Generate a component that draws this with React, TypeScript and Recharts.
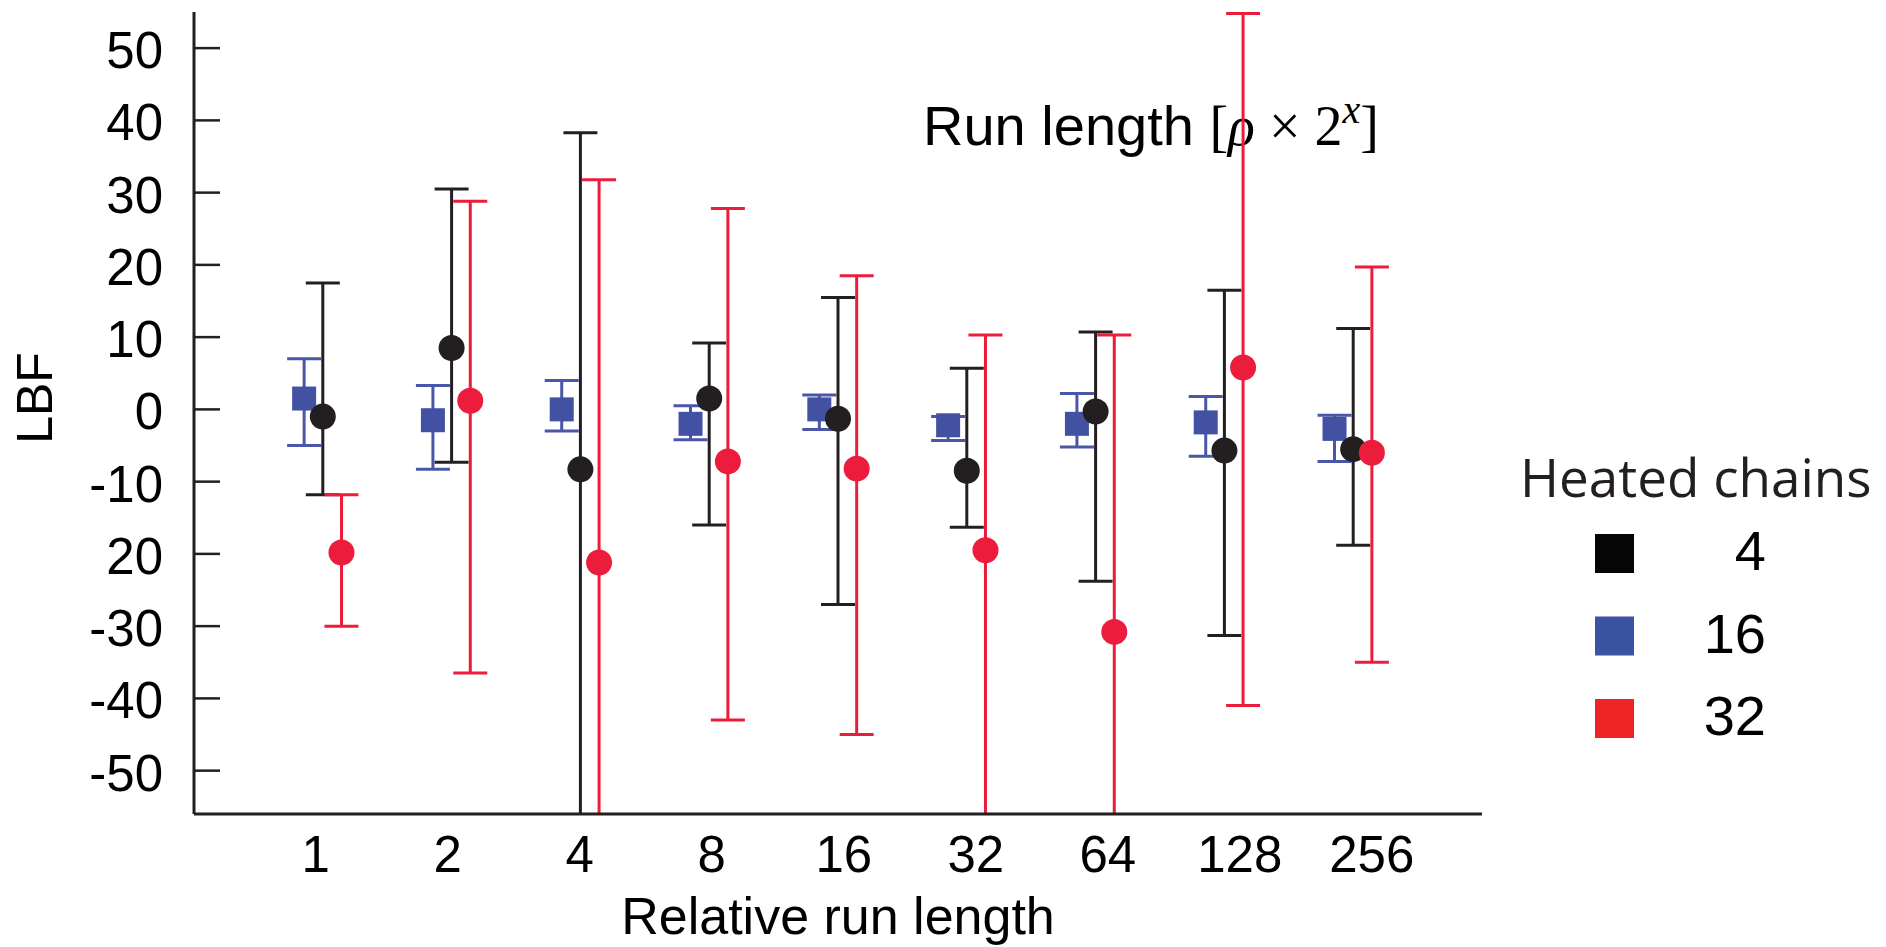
import { ScatterChart, Scatter, XAxis, YAxis, ErrorBar, Legend, Customized } from "recharts"

const runLengths = [1, 2, 4, 8, 16, 32, 64, 128, 256]
const chainCounts = ["4", "16", "32"]

// LBF estimate with lower / upper interval, per relative run length
const lbf4 = [-1, 8.5, -8.3, 1.5, -1.3, -8.5, -0.3, -5.7, -5.5]
const low4 = [-11.8, -7.3, -75, -16, -27, -16.3, -23.8, -31.3, -18.8]
const high4 = [17.5, 30.5, 38.3, 9.2, 15.5, 5.7, 10.7, 16.5, 11.2]

const lbf16 = [1.5, -1.5, 0, -2, 0, -2.2, -2, -1.8, -2.7]
const low16 = [-5, -8.3, -3, -4.2, -2.8, -4.3, -5.2, -6.5, -7.2]
const high16 = [7, 3.3, 4, 0.5, 2, -1, 2.2, 1.8, -0.8]

const lbf32 = [-19.8, 1.2, -21.2, -7.2, -8.2, -19.5, -30.8, 5.8, -6]
const low32 = [-30, -36.5, -80, -43, -45, -70, -75, -41, -35]
const high32 = [-11.8, 28.8, 31.8, 27.8, 18.5, 10.3, 10.3, 54.8, 19.7]

const yTicks = [50, 40, 30, 20, 10, 0, -10, -20, -30, -40, -50]
const yTickLabels = ["50", "40", "30", "20", "10", "0", "-10", "20", "-30", "-40", "-50"]

const INK = "#231f20"
const BLUE = "#4351a3"
const RED = "#ec1c3c"
const legendFill: Record<string, string> = { "4": "#050505", "16": "#3c53a4", "32": "#ee2326" }
const SANS = "'Liberation Sans', Arial, Helvetica, sans-serif"
const SERIF = "'Liberation Serif', 'DejaVu Serif', serif"

const toRows = (vals: number[], lo: number[], hi: number[]) =>
  vals.map((v, i) => ({ i, v, err: [v - lo[i], hi[i] - v] }))

const rows4 = toRows(lbf4, low4, high4)
const rows16 = toRows(lbf16, low16, high16)
const rows32 = toRows(lbf32, low32, high32)

// dodge the three groups sideways within each run length
const DODGE = 0.145

const Dot = (props: any) => <circle cx={props.cx} cy={props.cy} r={13} fill={props.fill} />
const Square = (props: any) => (
  <rect x={props.cx - 12} y={props.cy - 12} width={24} height={24} fill={props.fill} />
)

const XTick = (props: any) => {
  const { x, y, payload } = props
  // labels in the original drift a little to the right of their groups
  const shift = -7 + 3.2 * payload.value
  return (
    <text x={x + shift} y={y} dy={36} textAnchor="middle" fontSize={51} fontFamily={SANS} fill="#000">
      {runLengths[payload.value]}
    </text>
  )
}

const YTick = (props: any) => {
  const { x, y, payload } = props
  const label = yTickLabels[yTicks.indexOf(payload.value)]
  return (
    <g>
      <line x1={x} x2={x + 26} y1={y} y2={y} stroke={INK} strokeWidth={2.5} />
      <text x={x - 31} y={y} dy={20} textAnchor="end" fontSize={51} fontFamily={SANS} fill="#000">
        {label}
      </text>
    </g>
  )
}

const YLabel = (props: any) => {
  const vb = props.viewBox ?? { x: 0, y: 12, height: 802 }
  const cx = vb.x + 52
  const cy = vb.y + vb.height / 2 - 15
  return (
    <text
      x={cx}
      y={cy}
      transform={`rotate(-90 ${cx} ${cy})`}
      textAnchor="middle"
      fontSize={50}
      fontFamily={SANS}
      fill="#000"
    >
      LBF
    </text>
  )
}

const renderLegend = (props: any) => {
  const items = [...(props.payload ?? [])].sort(
    (a: any, b: any) => chainCounts.indexOf(String(a.value)) - chainCounts.indexOf(String(b.value))
  )
  return (
    <svg width={386} height={330}>
      <text x={20} y={67} fontSize={53} fontFamily="'Open Sans', sans-serif" fill={INK}>
        Heated chains
      </text>
      {items.map((e: any, k: number) => (
        <g key={e.value}>
          <rect x={95} y={104 + k * 82.5} width={39} height={39} fill={legendFill[e.value] ?? e.color} />
          <text x={266} y={140 + k * 82.5} textAnchor="end" fontSize={56} fontFamily={SANS} fill="#000">
            {e.value}
          </text>
        </g>
      ))}
    </svg>
  )
}

const Annotation = (props: any) => {
  const off = props.offset ?? { left: 194, top: 12, width: 1288, height: 802 }
  return (
    <g>
      <defs>
        <clipPath id="plotClip">
          <rect x={off.left} y={0} width={off.width} height={off.top + off.height} />
        </clipPath>
      </defs>
      <text x={923} y={145} fontSize={56} fontFamily={SANS} fill="#000">
        Run length{" "}
        <tspan fontFamily={SERIF}>[</tspan>
        <tspan fontFamily={SERIF} fontStyle="italic">ρ</tspan>
        <tspan fontFamily={SERIF}> × 2</tspan>
        <tspan fontFamily={SERIF} fontStyle="italic" fontSize={40} dy={-22}>x</tspan>
        <tspan fontFamily={SERIF} dy={22}>]</tspan>
      </text>
    </g>
  )
}

export default function App() {
  return (
    <div style={{ position: "absolute", left: 0, top: 0, background: "#fff" }}>
      <ScatterChart width={1886} height={947} margin={{ top: 12, right: 404, bottom: 8, left: 0 }}>
        <XAxis
          xAxisId="k"
          type="number"
          dataKey="i"
          domain={[-1, 9]}
          ticks={runLengths.map((_, i) => i)}
          allowDataOverflow
          tickLine={false}
          tickSize={0}
          tickMargin={22}
          height={125}
          axisLine={{ stroke: INK, strokeWidth: 3 }}
          tick={<XTick />}
          label={{
            value: "Relative run length",
            position: "insideBottom",
            offset: 5,
            fontSize: 52,
            fill: "#000",
            fontFamily: SANS,
          }}
        />
        <XAxis
          xAxisId="b"
          orientation="top"
          height={0}
          type="number"
          dataKey="i"
          domain={[-1 + DODGE, 9 + DODGE]}
          allowDataOverflow
          hide
        />
        <XAxis
          xAxisId="r"
          orientation="top"
          height={0}
          type="number"
          dataKey="i"
          domain={[-1 - DODGE, 9 - DODGE]}
          allowDataOverflow
          hide
        />
        <YAxis
          type="number"
          dataKey="v"
          domain={[-56, 55]}
          allowDataOverflow
          ticks={yTicks}
          width={194}
          tickLine={false}
          tickSize={0}
          tickMargin={0}
          tick={<YTick />}
          axisLine={{ stroke: INK, strokeWidth: 3 }}
          label={YLabel}
        />
        <Scatter name="16" data={rows16} xAxisId="b" fill={BLUE} shape={Square} isAnimationActive={false}>
          <ErrorBar dataKey="err" direction="y" width={17} stroke="#4a57a8" strokeWidth={3} clipPath="url(#plotClip)" />
        </Scatter>
        <Scatter name="4" data={rows4} xAxisId="k" fill={INK} shape={Dot} isAnimationActive={false}>
          <ErrorBar dataKey="err" direction="y" width={17} stroke={INK} strokeWidth={3} clipPath="url(#plotClip)" />
        </Scatter>
        <Scatter name="32" data={rows32} xAxisId="r" fill={RED} shape={Dot} isAnimationActive={false}>
          <ErrorBar dataKey="err" direction="y" width={17} stroke={RED} strokeWidth={3} clipPath="url(#plotClip)" />
        </Scatter>
        <Legend
          layout="vertical"
          align="center"
          verticalAlign="middle"
          content={renderLegend}
          wrapperStyle={{ left: 1500, top: 430, width: 386, height: 330 }}
        />
        <Customized component={Annotation} />
      </ScatterChart>
    </div>
  )
}
